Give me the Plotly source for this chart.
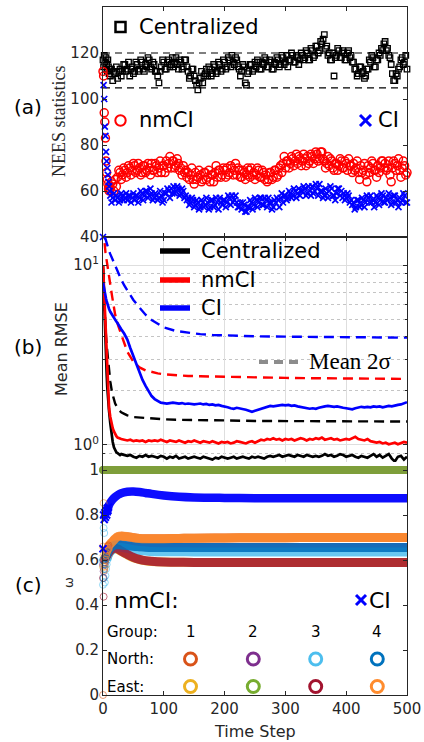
import plotly.graph_objects as go

W, H = 424, 742

# ---------------- data ----------------
# (a) NEES statistics
steps_a = list(range(0, 12)) + list(range(12, 501, 2))
nees_central = [117, 114, 119, 116, 113, 118, 115, 112, 117, 114, 111, 113,
                110, 113, 108, 112, 111, 114, 109, 112, 113, 110, 112, 115, 115, 112, 113, 116, 110, 113, 114, 111,
                112, 116, 115, 112, 113, 117, 116, 113, 112, 115, 114, 118, 117, 114, 113, 116, 115, 112, 112, 110,
                107, 112, 114, 117, 116, 113, 113, 116, 117, 114, 115, 118, 114, 116, 118, 115, 113, 117, 116, 113,
                114, 117, 117, 114, 112, 109, 110, 113, 113, 110, 108, 106, 104, 107, 109, 112, 107, 110, 111, 113,
                110, 114, 113, 110, 111, 115, 114, 111, 112, 116, 115, 112, 113, 117, 116, 113, 114, 118, 117, 114,
                119, 116, 115, 118, 117, 114, 113, 110, 112, 115, 114, 107, 106, 111, 112, 115, 115, 112, 113, 116,
                114, 117, 116, 113, 113, 116, 115, 118, 117, 114, 114, 117, 116, 113, 113, 116, 115, 118, 117, 114,
                115, 119, 118, 115, 116, 119, 114, 117, 117, 120, 119, 116, 116, 119, 118, 115, 117, 120, 119, 117,
                118, 121, 120, 117, 117, 122, 121, 118, 119, 123, 123, 120, 121, 125, 124, 126, 128, 122, 123, 119,
                120, 117, 117, 120, 110, 118, 119, 122, 121, 118, 118, 121, 120, 117, 117, 120, 121, 118, 119, 116,
                116, 113, 113, 110, 111, 114, 114, 111, 112, 109, 110, 113, 113, 117, 116, 119, 118, 114, 114, 117,
                117, 120, 119, 122, 121, 124, 125, 121, 122, 119, 118, 115, 111, 108, 108, 111, 110, 113, 114, 117,
                118, 115, 116, 119, 113]
nees_nmci = [112, 110, 94, 90, 83, 73, 68, 65, 63, 61, 60, 62,
             61, 64, 63, 60, 65, 62, 66, 69, 68, 65, 67, 70, 69, 66, 68, 71, 70, 67, 69, 72,
             71, 68, 69, 72, 70, 67, 68, 71, 71, 68, 69, 72, 70, 67, 72, 69, 69, 72, 71, 68,
             70, 73, 68, 71, 71, 68, 73, 70, 72, 75, 70, 73, 73, 70, 71, 74, 72, 69, 70, 67,
             71, 68, 69, 66, 68, 65, 67, 70, 65, 63, 68, 65, 66, 69, 67, 64, 65, 68, 68, 65,
             66, 69, 64, 67, 67, 64, 68, 71, 66, 69, 69, 66, 67, 70, 69, 66, 70, 67, 68, 71,
             70, 67, 69, 72, 67, 70, 69, 66, 66, 69, 68, 65, 67, 70, 69, 66, 70, 67, 68, 65,
             67, 70, 69, 66, 66, 69, 68, 65, 67, 64, 65, 68, 68, 65, 66, 69, 69, 66, 67, 70,
             71, 68, 72, 75, 70, 73, 73, 70, 72, 75, 74, 71, 73, 76, 72, 75, 74, 71, 73, 76,
             74, 71, 75, 72, 73, 76, 75, 72, 74, 77, 76, 73, 74, 77, 77, 74, 73, 70, 72, 75,
             71, 74, 73, 70, 69, 72, 72, 69, 71, 74, 73, 70, 70, 73, 72, 69, 74, 71, 71, 68,
             72, 69, 70, 73, 68, 65, 71, 68, 69, 72, 67, 64, 71, 68, 70, 73, 72, 69, 69, 66,
             71, 68, 70, 73, 73, 70, 72, 69, 70, 73, 67, 64, 70, 73, 72, 69, 71, 74, 69, 66,
             70, 73, 71, 67, 68]
nees_ci = [40, 106, 100, 88, 84, 77, 73, 70, 67, 64, 62, 60,
           58, 55, 57, 59, 56, 58, 57, 55, 56, 59, 58, 56, 57, 59, 56, 58, 58, 55, 57, 59,
           56, 58, 58, 55, 57, 60, 59, 56, 58, 60, 60, 57, 58, 61, 59, 56, 57, 59, 58, 56,
           57, 60, 58, 55, 56, 59, 59, 61, 60, 57, 61, 59, 62, 59, 60, 62, 61, 58, 59, 61,
           60, 57, 58, 56, 57, 54, 55, 57, 56, 53, 54, 56, 55, 52, 53, 56, 55, 53, 54, 57,
           55, 52, 53, 56, 56, 53, 54, 57, 55, 52, 57, 55, 54, 56, 56, 53, 55, 58, 57, 54,
           58, 55, 56, 58, 55, 53, 53, 55, 52, 55, 54, 51, 51, 53, 53, 56, 55, 52, 54, 57,
           56, 53, 55, 57, 57, 54, 54, 57, 56, 53, 57, 55, 55, 52, 53, 56, 55, 57, 56, 53,
           57, 59, 55, 58, 58, 56, 57, 60, 59, 57, 58, 61, 60, 57, 59, 61, 58, 60, 60, 62,
           61, 58, 59, 62, 60, 58, 62, 59, 60, 63, 61, 58, 63, 60, 60, 57, 58, 61, 59, 57,
           60, 62, 61, 58, 58, 56, 59, 61, 61, 58, 60, 57, 59, 56, 57, 59, 58, 55, 56, 54,
           55, 52, 53, 56, 56, 53, 54, 57, 56, 53, 55, 58, 57, 55, 58, 55, 56, 53, 55, 58,
           57, 54, 56, 59, 58, 55, 55, 57, 56, 59, 57, 54, 55, 58, 58, 55, 56, 53, 57, 55,
           56, 59, 58, 55, 55]
nees_bound_steps = [0, 500]
nees_lower = [104.8, 104.8]
nees_upper = [120.0, 120.0]

# (b) Mean RMSE
steps_b = list(range(0, 11)) + list(range(12, 31, 2)) + list(range(35, 501, 5))
rmse_central = [10.0, 7.5, 5.6, 4.2, 3.3, 2.9, 2.5, 2.1, 1.85, 1.65, 1.54,
                1.32, 1.15, 1.04, 0.97, 0.93, 0.91, 0.90, 0.89, 0.88, 0.89,
                0.88, 0.87, 0.88, 0.86, 0.85, 0.87, 0.86, 0.88, 0.86, 0.87, 0.86, 0.85, 0.87, 0.86,
                0.84, 0.86, 0.85, 0.87, 0.84, 0.85, 0.86, 0.84, 0.85, 0.86,
                0.85, 0.84, 0.86, 0.85, 0.84, 0.83, 0.85, 0.84, 0.86, 0.85,
                0.84, 0.85, 0.86, 0.84, 0.85, 0.86, 0.85, 0.84, 0.86, 0.85,
                0.86, 0.85, 0.84, 0.86, 0.87, 0.86, 0.87, 0.88, 0.86, 0.87,
                0.88, 0.87, 0.86, 0.88, 0.87, 0.86, 0.88, 0.87, 0.86, 0.87,
                0.86, 0.87, 0.89, 0.87, 0.88, 0.86, 0.87, 0.89, 0.88, 0.86,
                0.87, 0.88, 0.86, 0.85, 0.87, 0.86, 0.85, 0.87, 0.89, 0.86,
                0.88, 0.85, 0.87, 0.89, 0.84, 0.81, 0.86, 0.87, 0.83, 0.86]
rmse_nmci = [10.0, 8.3, 6.6, 5.2, 4.1, 3.3, 2.7, 2.3, 2.0, 1.78, 1.6,
             1.43, 1.32, 1.24, 1.19, 1.15, 1.12, 1.10, 1.09, 1.08, 1.08,
             1.07, 1.06, 1.07, 1.05, 1.06, 1.05, 1.06, 1.04, 1.06, 1.05, 1.06, 1.05, 1.07, 1.05,
             1.04, 1.06, 1.05, 1.04, 1.06, 1.05, 1.03, 1.05, 1.04, 1.06,
             1.04, 1.03, 1.05, 1.04, 1.03, 1.05, 1.04, 1.02, 1.04, 1.03,
             1.04, 1.02, 1.03, 1.05, 1.04, 1.03, 1.02, 1.04, 1.05, 1.03,
             1.05, 1.07, 1.06, 1.08, 1.07, 1.09, 1.07, 1.08, 1.06, 1.08,
             1.07, 1.08, 1.06, 1.07, 1.09, 1.08, 1.06, 1.08, 1.07, 1.09,
             1.08, 1.10, 1.07, 1.08, 1.09, 1.07, 1.08, 1.06, 1.07, 1.08,
             1.07, 1.09, 1.11, 1.08, 1.07, 1.06, 1.08, 1.05, 1.04, 1.03,
             1.04, 1.02, 1.03, 1.01, 1.02, 1.03, 1.01, 1.02, 1.04, 1.03]
rmse_ci = [8.0, 7.6, 7.3, 7.0, 6.75, 6.5, 6.3, 6.1, 5.95, 5.8, 5.7,
           5.5, 5.35, 5.2, 5.05, 4.95, 4.85, 4.75, 4.65, 4.5, 4.4,
           4.15, 3.85, 3.45, 3.1, 2.8, 2.55, 2.3, 2.13, 1.98, 1.87, 1.8, 1.75, 1.72, 1.71,
           1.70, 1.71, 1.72, 1.71, 1.70, 1.71, 1.69, 1.70, 1.69, 1.68,
           1.69, 1.70, 1.68, 1.69, 1.67, 1.68, 1.66, 1.67, 1.65, 1.64,
           1.62, 1.60, 1.59, 1.61, 1.60, 1.58, 1.57, 1.55, 1.53, 1.55,
           1.57, 1.60, 1.62, 1.64, 1.65, 1.64, 1.65, 1.66, 1.67, 1.66,
           1.67, 1.65, 1.66, 1.64, 1.63, 1.61, 1.60, 1.59, 1.60, 1.59,
           1.61, 1.63, 1.64, 1.65, 1.64, 1.63, 1.64, 1.62, 1.61, 1.60,
           1.59, 1.58, 1.60, 1.61, 1.63, 1.62, 1.63, 1.62, 1.64, 1.63,
           1.64, 1.62, 1.63, 1.65, 1.64, 1.66, 1.67, 1.68, 1.70, 1.73]
steps_bd = [0, 2, 4, 6, 8, 10, 12, 15, 18, 20, 25, 30, 35, 40, 50, 60, 70, 80, 90, 100,
            120, 140, 160, 180, 200, 250, 300, 350, 400, 450, 500]
sigma2_central = [9.5, 6.0, 4.5, 3.6, 3.0, 2.55, 2.25, 1.95, 1.78, 1.7, 1.58, 1.52, 1.49, 1.46,
                  1.43, 1.42, 1.41, 1.40, 1.40, 1.39, 1.38, 1.38, 1.37, 1.37, 1.37, 1.36, 1.36,
                  1.36, 1.35, 1.35, 1.35]
sigma2_nmci = [30.0, 14.0, 11.8, 10.5, 9.4, 8.6, 7.8, 6.7, 5.8, 5.3, 4.6, 4.1, 3.65, 3.3,
               2.9, 2.7, 2.6, 2.54, 2.5, 2.47, 2.44, 2.42, 2.41, 2.40, 2.39, 2.37, 2.36,
               2.35, 2.34, 2.34, 2.33]
sigma2_ci = [40.0, 16.0, 14.0, 13.2, 12.5, 12.0, 11.5, 10.9, 10.2, 9.8, 9.0, 8.3, 7.7, 7.2,
             6.4, 5.8, 5.3, 4.95, 4.7, 4.5, 4.3, 4.2, 4.13, 4.09, 4.06, 4.02, 4.0,
             3.98, 3.97, 3.96, 3.95]

# (c) omega weights
steps_w_early = [0, 1, 2, 3, 4, 5, 6, 7, 8, 9]
steps_w = [6, 10, 15, 20, 25, 30, 40, 50, 60, 70, 80, 100, 125, 150, 200, 250, 300, 350, 400, 450, 500]
group_names = ["North 1", "East 1", "North 2", "East 2", "North 3", "East 3", "North 4", "East 4"]
group_colors = ["#D95319", "#EDB120", "#7E2F8E", "#77AC30", "#4DBEEE", "#A2142F", "#0072BD", "#FF8C2E"]
w_early = {
    "North 1": [0.0, 0.60, 0.58, 0.61, 0.62, 0.63, 0.64, 0.65, 0.66, 0.665],
    "East 1": [0.57, 0.62, 0.60, 0.61, 0.62, 0.625, 0.63, 0.635, 0.64, 0.645],
    "North 2": [0.58, 0.55, 0.60, 0.61, 0.62, 0.63, 0.635, 0.64, 0.645, 0.65],
    "East 2": [1.0, 1.0, 1.0, 1.0, 1.0, 1.0, 1.0, 1.0, 1.0, 1.0],
    "North 3": [0.49, 0.742, 0.72, 0.50, 0.53, 0.56, 0.58, 0.60, 0.61, 0.62],
    "East 3": [0.52, 0.437, 0.60, 0.59, 0.60, 0.61, 0.615, 0.62, 0.625, 0.63],
    "North 4": [0.60, 0.52, 0.56, 0.58, 0.60, 0.61, 0.62, 0.625, 0.63, 0.635],
    "East 4": [0.66, 0.853, 0.556, 0.57, 0.60, 0.62, 0.63, 0.64, 0.645, 0.65],
}
w_steady = {
    "North 1": [0.63, 0.66, 0.678, 0.693, 0.703, 0.705, 0.703, 0.699, 0.696, 0.695, 0.695, 0.695, 0.696,
                0.697, 0.698, 0.699, 0.699, 0.70, 0.70, 0.70, 0.70],
    "East 1": [0.605, 0.63, 0.645, 0.65, 0.646, 0.638, 0.623, 0.61, 0.602, 0.596, 0.593, 0.591, 0.59,
               0.589, 0.589, 0.589, 0.589, 0.589, 0.589, 0.589, 0.589],
    "North 2": [0.615, 0.64, 0.655, 0.664, 0.665, 0.664, 0.662, 0.66, 0.658, 0.657, 0.656, 0.656, 0.656,
                0.656, 0.656, 0.656, 0.656, 0.656, 0.656, 0.656, 0.656],
    "East 2": [1.0, 1.0, 1.0, 1.0, 1.0, 1.0, 1.0, 1.0, 1.0, 1.0, 1.0, 1.0, 1.0,
               1.0, 1.0, 1.0, 1.0, 1.0, 1.0, 1.0, 1.0],
    "North 3": [0.60, 0.63, 0.645, 0.655, 0.657, 0.656, 0.651, 0.646, 0.642, 0.64, 0.638, 0.637, 0.637,
                0.636, 0.636, 0.636, 0.636, 0.636, 0.636, 0.636, 0.636],
    "East 3": [0.61, 0.635, 0.648, 0.652, 0.648, 0.64, 0.625, 0.612, 0.603, 0.597, 0.594, 0.591, 0.59,
               0.589, 0.589, 0.589, 0.589, 0.589, 0.589, 0.589, 0.589],
    "North 4": [0.62, 0.645, 0.66, 0.667, 0.668, 0.667, 0.664, 0.661, 0.659, 0.657, 0.656, 0.656, 0.656,
                0.656, 0.656, 0.656, 0.656, 0.656, 0.656, 0.656, 0.656],
    "East 4": [0.64, 0.665, 0.68, 0.695, 0.705, 0.707, 0.704, 0.699, 0.696, 0.695, 0.695, 0.695, 0.696,
               0.697, 0.698, 0.699, 0.699, 0.70, 0.70, 0.70, 0.70],
}
w_ci_early = [0.65, 0.80, 0.78, 0.81, 0.79, 0.82, 0.80, 0.83, 0.82, 0.835]
w_ci = [0.80, 0.845, 0.866, 0.88, 0.89, 0.897, 0.903, 0.904, 0.902, 0.898, 0.894, 0.887, 0.881,
        0.878, 0.876, 0.875, 0.875, 0.875, 0.875, 0.875, 0.875]

time_ticks = [0, 100, 200, 300, 400, 500]

# ---------------- layout helpers ----------------
def px(x):
    return x / W

def py(y):
    return 1 - y / H

X0, X1 = 103, 407
A_TOP, A_BOT = 7, 237
B_TOP, B_BOT = 237, 470
C_TOP, C_BOT = 470, 695
C_EXT = 8  # let (c) draw slightly above omega = 1
FONT = "DejaVu Sans"
AXC = "#262626"

def hex_rgba(h, a):
    h = h.lstrip("#")
    return "rgba(%d,%d,%d,%.2f)" % (int(h[0:2], 16), int(h[2:4], 16), int(h[4:6], 16), a)

fig = go.Figure()

# ---- (a) ----
fig.add_trace(go.Scatter(x=nees_bound_steps, y=nees_upper, mode="lines", xaxis="x", yaxis="y",
                         line=dict(color="black", width=1.2, dash="7px,5px"), showlegend=False))
fig.add_trace(go.Scatter(x=nees_bound_steps, y=nees_lower, mode="lines", xaxis="x", yaxis="y",
                         line=dict(color="black", width=1.2, dash="7px,5px"), showlegend=False))
fig.add_trace(go.Scatter(x=steps_a, y=nees_central, mode="markers", xaxis="x", yaxis="y", cliponaxis=False,
                         marker=dict(symbol="square-open", size=5.5, color="black", line=dict(width=1.3)),
                         showlegend=False))
fig.add_trace(go.Scatter(x=steps_a, y=nees_nmci, mode="markers", xaxis="x", yaxis="y", cliponaxis=False,
                         marker=dict(symbol="circle-open", size=8, color="red", line=dict(width=1.5)),
                         showlegend=False))
fig.add_trace(go.Scatter(x=steps_a, y=nees_ci, mode="markers", xaxis="x", yaxis="y", cliponaxis=False,
                         marker=dict(symbol="x-thin-open", size=6, color="blue", line=dict(width=1.7, color="blue")),
                         showlegend=False))

# ---- (b) ----
dash_b = "10px,6px"
for ys, col in [(sigma2_central, "black"), (sigma2_nmci, "red"), (sigma2_ci, "blue")]:
    fig.add_trace(go.Scatter(x=steps_bd, y=ys, mode="lines", xaxis="x2", yaxis="y2",
                             line=dict(color=col, width=2.4, dash=dash_b), showlegend=False))
for ys, col in [(rmse_central, "black"), (rmse_nmci, "red"), (rmse_ci, "blue")]:
    fig.add_trace(go.Scatter(x=steps_b, y=ys, mode="lines", xaxis="x2", yaxis="y2",
                             line=dict(color=col, width=2.7), showlegend=False))

# ---- (c) ----
for name, col in zip(group_names, group_colors):
    if name == "East 2":
        continue
    fig.add_trace(go.Scatter(x=steps_w, y=w_steady[name], mode="lines", xaxis="x3", yaxis="y3",
                             line=dict(color=hex_rgba(col, 0.85), width=9, shape="spline"), showlegend=False))
fig.add_trace(go.Scatter(x=steps_w, y=w_ci, mode="lines", xaxis="x3", yaxis="y3",
                         line=dict(color="rgba(0,0,255,0.95)", width=8.5, shape="spline"), showlegend=False))
for name, col in zip(group_names, group_colors):
    fig.add_trace(go.Scatter(x=steps_w_early, y=w_early[name], mode="markers", xaxis="x3", yaxis="y3",
                             cliponaxis=False,
                             marker=dict(symbol="circle-open", size=7, color=hex_rgba(col, 0.6), line=dict(width=1)),
                             showlegend=False))
fig.add_trace(go.Scatter(x=steps_w_early, y=w_ci_early, mode="markers", xaxis="x3", yaxis="y3", cliponaxis=False,
                         marker=dict(symbol="x-thin-open", size=7, color="blue", line=dict(width=2, color="blue")),
                         showlegend=False))
fig.add_trace(go.Scatter(x=steps_w, y=w_steady["East 2"], mode="lines", xaxis="x3", yaxis="y3",
                         line=dict(color="#7E9E3A", width=8), showlegend=False))
fig.add_trace(go.Scatter(x=steps_w_early, y=w_early["East 2"], mode="markers", xaxis="x3", yaxis="y3",
                         cliponaxis=False, marker=dict(symbol="circle", size=8, color="#7E9E3A"), showlegend=False))

# ---------------- axes ----------------
tickfont = dict(family=FONT, size=15, color=AXC)
common_x = dict(range=[0, 500], tickvals=time_ticks, ticks="inside", ticklen=4, tickcolor=AXC,
                showline=True, linecolor=AXC, linewidth=1, mirror="allticks", zeroline=False,
                domain=[px(X0), px(X1)], tickfont=tickfont, automargin=False)
xa = dict(common_x, anchor="y", showticklabels=False, showgrid=False)
xb = dict(common_x, anchor="y2", showticklabels=False, showgrid=True, gridcolor="#dedede", gridwidth=1)
xc = dict(common_x, anchor="y3", showticklabels=True, showgrid=False, mirror=False,
          ticktext=[str(v) for v in time_ticks])

c_range_top = 1 + C_EXT / (C_BOT - C_TOP)
ya = dict(range=[40, 140], dtick=20, tick0=40, ticks="inside", ticklen=4, tickcolor=AXC, showline=True,
          linecolor=AXC, linewidth=1, mirror="allticks", zeroline=False, showgrid=False, anchor="x",
          domain=[py(A_BOT), py(A_TOP)], tickfont=tickfont, automargin=False)
yb = dict(type="log", range=[-0.139, 1.156], tickvals=[1, 10], ticktext=["10<sup>0</sup>", "10<sup>1</sup>"],
          ticks="inside", ticklen=4, tickcolor=AXC, showline=True, linecolor=AXC, linewidth=1,
          mirror="allticks", zeroline=False, showgrid=True, gridcolor="#dedede", anchor="x2",
          domain=[py(B_BOT), py(B_TOP)], tickfont=tickfont, automargin=False,
          minor=dict(tickvals=[0.8, 0.9, 2, 3, 4, 5, 6, 7, 8, 9], showgrid=True, griddash="dot",
                     gridcolor="#c4c4c4", ticks="inside", ticklen=2, tickcolor=AXC))
yc = dict(range=[0, c_range_top], tickvals=[0, 0.2, 0.4, 0.6, 0.8, 1],
          ticktext=["0", "0.2", "0.4", "0.6", "0.8", "1"], ticks="inside", ticklen=4, tickcolor=AXC,
          showline=True, linecolor=AXC, linewidth=1, mirror="allticks", zeroline=False, showgrid=False,
          anchor="x3", domain=[py(C_BOT), py(C_TOP - C_EXT)], tickfont=tickfont, automargin=False)

# ---------------- annotations ----------------
ann = []
def text(x, y, s, size, xanchor="left", family=FONT, color="black", angle=0):
    ann.append(dict(x=px(x), y=py(y), xref="paper", yref="paper", text=s, showarrow=False,
                    xanchor=xanchor, yanchor="middle", textangle=angle,
                    font=dict(family=family, size=size, color=color)))

text(28, 107, "(a)", 20, "center")
text(28, 347, "(b)", 20, "center")
text(28, 585, "(c)", 20, "center")
text(59, 121, "NEES statistics", 18, "center", family="Liberation Serif", color=AXC, angle=-90)
text(61, 349, "Mean RMSE", 16, "center", color=AXC, angle=-90)
text(68, 583, "ω", 13, "center", color=AXC, angle=-90)
text(255, 731, "Time Step", 16, "center", color=AXC)

# (a) legend
text(137, 27, "Centralized", 21)
text(137, 120, "nmCI", 21)
text(376, 120, "CI", 21)
# (b) legend
text(199, 251, "Centralized", 21)
text(199, 280, "nmCI", 21)
text(199, 308, "CI", 21)
text(307, 362, "Mean 2σ", 23, family="Liberation Serif")
# (c) legend
text(112, 600, "nmCI:", 22)
text(367, 600, "CI", 22)
text(105, 632, "Group:", 15)
text(105, 659, "North:", 15)
text(105, 687, "East:", 15)
for gx, lab in zip([190.5, 253.3, 315.7, 377.3], ["1", "2", "3", "4"]):
    text(gx, 632, lab, 15, "center")

shapes = []
def pline(x0, y0, x1, y1, color, width, dash=None):
    shapes.append(dict(type="line", xref="paper", yref="paper", x0=px(x0), y0=py(y0), x1=px(x1), y1=py(y1),
                       line=dict(color=color, width=width, dash=dash) if dash else dict(color=color, width=width)))

def pcircle(cx, cy, r, color, width):
    shapes.append(dict(type="circle", xref="paper", yref="paper", x0=px(cx - r), x1=px(cx + r),
                       y0=py(cy + r), y1=py(cy - r), line=dict(color=color, width=width)))

# (a) legend symbols
shapes.append(dict(type="rect", xref="paper", yref="paper", x0=px(115.5), x1=px(125.5), y0=py(32), y1=py(22),
                   line=dict(color="black", width=2.5)))
pcircle(120.5, 120.5, 5.2, "red", 2)
pline(360, 115, 371, 126, "blue", 3)
pline(360, 126, 371, 115, "blue", 3)
# (b) legend lines
pline(160, 251, 190, 251, "black", 5.5)
pline(160, 280, 190, 280, "red", 5.5)
pline(160, 308, 190, 308, "blue", 5.5)
pline(259, 362, 301, 362, "#8c8c8c", 4, "9px,6px")
# (c) legend symbols
pline(356, 595, 366, 605, "blue", 3)
pline(356, 605, 366, 595, "blue", 3)
north_cols = ["#D95319", "#7E2F8E", "#4DBEEE", "#0072BD"]
east_cols = ["#EDB120", "#77AC30", "#A2142F", "#FF8C2E"]
for gx, nc, ec in zip([190.5, 253.3, 315.7, 377.3], north_cols, east_cols):
    pcircle(gx, 659, 6, nc, 3)
    pcircle(gx, 686.5, 6, ec, 3)

fig.update_layout(width=W, height=H, margin=dict(l=0, r=0, t=0, b=0), autosize=False,
                  paper_bgcolor="white", plot_bgcolor="white", showlegend=False,
                  xaxis=xa, xaxis2=xb, xaxis3=xc, yaxis=ya, yaxis2=yb, yaxis3=yc,
                  annotations=ann, shapes=shapes, font=dict(family=FONT))

fig.write_html("out.html", config={"displayModeBar": False},
               post_script="document.body.style.margin='0';")
